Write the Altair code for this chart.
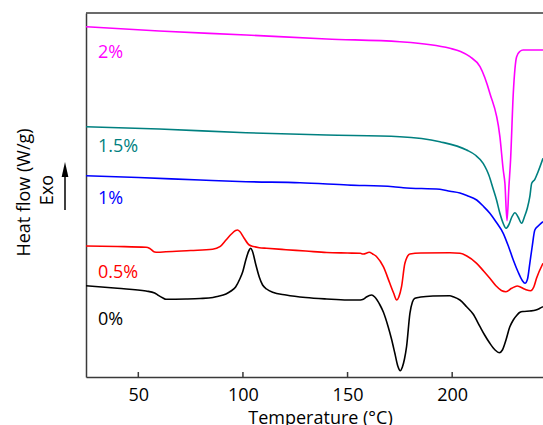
import altair as alt
import pandas as pd

# ---- series (temperature in degC, heat flow in arbitrary offset units) ----
series_names = ["0%", "0.5%", "1%", "1.5%", "2%"]
series_colors = ["#000000", "#ff0000", "#0000ff", "#008080", "#ff00ff"]

t_0 = [25.0, 40.0, 53.7, 57.8, 59.3, 61.8, 63.2, 72.8, 79.5, 85.7, 87.1, 91.9, 94.3, 96.5,
       98.5, 99.9, 101.5, 103.0, 103.7, 104.5, 106.2, 107.8, 109.4, 111.3, 114.2, 120.6,
       130.0, 140.0, 150.0, 156.1, 157.5, 159.0, 161.5, 163.0, 165.5, 167.1, 169.4, 171.0,
       172.6, 174.0, 175.2, 176.2, 177.2, 178.2, 179.8, 181.0, 182.2, 185.0, 190.8, 198.9,
       200.5, 203.7, 206.9, 210.0, 213.3, 215.5, 218.0, 220.5, 222.5, 224.0, 225.7, 227.5,
       229.2, 231.0, 232.4, 234.0, 237.1, 240.0, 241.9, 243.4]
hf_0 = [91.3, 88.7, 86.0, 84.0, 82.0, 79.0, 77.7, 78.0, 78.5, 79.5, 80.3, 83.0, 86.0, 90.0,
        98.0, 105.3, 118.0, 127.0, 128.7, 126.0, 112.0, 100.0, 92.0, 88.0, 84.7, 82.0,
        79.5, 78.0, 77.0, 77.0, 77.7, 80.0, 82.0, 80.0, 72.0, 65.0, 50.3, 38.0,
        23.7, 11.0, 6.3, 10.0, 18.0, 30.3, 63.7, 75.0, 78.7, 80.0, 81.0, 81.3,
        80.3, 77.0, 70.3, 63.0, 50.3, 42.0, 33.7, 27.0, 24.3, 27.0, 37.0, 50.0,
        57.0, 62.0, 64.7, 65.5, 66.0, 67.0, 68.7, 70.3]

t_05 = [25.0, 40.0, 53.7, 55.5, 57.8, 59.3, 63.2, 75.0, 85.5, 89.0, 91.9, 94.5, 96.5, 97.4,
        98.5, 100.5, 103.0, 105.0, 107.8, 111.3, 120.6, 130.0, 140.0, 150.0, 156.1, 157.5,
        160.4, 162.0, 163.9, 167.1, 170.2, 172.0, 173.5, 174.5, 175.8, 177.4, 179.8, 185.0,
        198.9, 203.7, 207.0, 211.7, 215.0, 218.0, 221.0, 223.5, 225.7, 228.4, 231.1, 234.8,
        237.5, 239.0, 240.3, 243.4]
hf_05 = [131.0, 130.5, 129.7, 128.5, 125.0, 124.7, 125.3, 126.5, 127.7, 130.3, 137.0, 143.0,
         146.5, 147.0, 145.5, 139.0, 132.0, 130.5, 129.3, 128.7, 127.3, 126.0, 124.5, 124.0,
         123.7, 123.0, 124.7, 123.0, 120.3, 110.3, 93.7, 84.0, 77.0, 80.0, 90.3, 113.7,
         123.0, 124.0, 124.3, 123.7, 121.0, 113.7, 106.0, 98.7, 91.0, 86.5, 85.3, 88.7,
         91.0, 87.7, 86.3, 90.0, 98.7, 113.7]

t_1 = [25.0, 50.0, 79.5, 101.5, 127.3, 150.0, 171.8, 176.6, 194.1, 198.9, 203.7, 207.0,
       211.7, 215.0, 218.0, 221.0, 224.4, 227.0, 229.2, 231.5, 233.5, 234.8, 236.0, 237.1,
       238.2, 239.5, 241.1, 243.4]
hf_1 = [201.3, 199.5, 197.0, 195.3, 194.3, 192.0, 190.3, 189.3, 187.7, 185.8, 184.0, 181.5,
        177.0, 170.5, 163.7, 155.0, 143.7, 130.0, 117.0, 105.0, 96.5, 93.7, 98.0, 113.7,
        130.0, 147.0, 151.0, 155.3]

t_15 = [25.0, 60.0, 101.5, 140.0, 175.0, 194.1, 206.9, 211.0, 214.8, 216.5, 217.5, 219.6,
        221.2, 222.8, 224.5, 225.7, 227.0, 228.5, 230.0, 231.5, 233.2, 234.5, 235.9, 237.1,
        238.0, 239.5, 241.0, 243.4]
hf_15 = [250.3, 248.0, 244.3, 242.0, 240.3, 235.3, 227.0, 222.0, 213.7, 207.0, 202.0, 188.0,
         177.0, 163.7, 153.0, 148.7, 152.0, 160.0, 164.3, 160.0, 153.7, 160.0, 168.7, 180.3,
         193.7, 197.7, 205.0, 218.7]

t_2 = [25.0, 60.0, 101.5, 140.0, 175.0, 198.9, 204.0, 208.5, 213.3, 218.0, 222.8, 224.4,
       225.2, 226.2, 227.1, 227.9, 229.2, 230.8, 232.3, 233.9, 243.4]
hf_2 = [350.3, 346.0, 342.0, 338.0, 335.3, 328.7, 325.5, 320.3, 310.3, 283.7, 240.3, 207.0,
        193.7, 156.3, 190.0, 217.0, 283.7, 320.3, 325.5, 327.0, 327.0]

# curve labels (text, position in data units)
label_text = ["0%", "0.5%", "1%", "1.5%", "2%"]
label_t = [30.7, 30.7, 30.7, 30.7, 30.7]
label_hf = [57.0, 103.7, 178.0, 230.3, 323.7]

x_ticks = [50, 100, 150, 200]

# ---- build tables ----
all_t = [t_0, t_05, t_1, t_15, t_2]
all_hf = [hf_0, hf_05, hf_1, hf_15, hf_2]
rows = []
for name, ts, hs in zip(series_names, all_t, all_hf):
    for t, h in zip(ts, hs):
        rows.append({"series": name, "T": t, "hf": h})
df = pd.DataFrame(rows)
df_lab = pd.DataFrame({"series": series_names, "label": label_text, "T": label_t, "hf": label_hf})
df_ticks = pd.DataFrame({"T": x_ticks})

W, H = 457, 364
FONT = "Open Sans"
FRAME = "#3a3a3a"

xscale = alt.Scale(domain=[25, 243.4], nice=False, zero=False)
yscale = alt.Scale(domain=[0, 364], nice=False, zero=False)
cscale = alt.Scale(domain=series_names, range=series_colors)

x_enc = alt.X("T:Q", scale=xscale, axis=alt.Axis(
    values=x_ticks, title="Temperature (°C)", ticks=False, grid=False,
    labelFont=FONT, labelFontSize=18, labelColor="#000", labelPadding=9,
    titleFont=FONT, titleFontSize=18, titleFontWeight="normal", titleColor="#000",
    titleX=234, titleY=32, titleBaseline="top", titleAlign="center",
    domainColor=FRAME, domainWidth=1.5))
y_enc = alt.Y("hf:Q", scale=yscale, axis=alt.Axis(
    labels=False, ticks=False, grid=False, title="Heat flow (W/g)",
    titleFont=FONT, titleFontSize=18, titleFontWeight="normal", titleColor="#000",
    titleX=-62, titleY=179, titleAngle=270, titleAlign="center", titleBaseline="middle",
    domainColor=FRAME, domainWidth=1.5))

lines = alt.Chart(df).mark_line(strokeWidth=1.6, interpolate="monotone").encode(
    x=x_enc, y=y_enc,
    color=alt.Color("series:N", scale=cscale, legend=None),
    detail="series:N")

labels = alt.Chart(df_lab).mark_text(align="left", baseline="middle", font=FONT, fontSize=18).encode(
    x=alt.X("T:Q", scale=xscale), y=alt.Y("hf:Q", scale=yscale),
    text="label:N",
    color=alt.Color("series:N", scale=cscale, legend=None))

ticks = alt.Chart(df_ticks).mark_rule(color=FRAME, strokeWidth=1.5).encode(
    x=alt.X("T:Q", scale=xscale), y=alt.value(H - 5), y2=alt.value(H))

one = pd.DataFrame({"k": [0]})
top_border = alt.Chart(one).mark_rule(color=FRAME, strokeWidth=1.5).encode(
    x=alt.value(0), x2=alt.value(W), y=alt.value(0))

exo = alt.Chart(one).mark_text(text="Exo", angle=270, font=FONT, fontSize=18,
                               align="center", baseline="middle", color="#000").encode(
    x=alt.value(-38), y=alt.value(177))
arrow_shaft = alt.Chart(one).mark_rule(color="#000", strokeWidth=1.5).encode(
    x=alt.value(-21), y=alt.value(197), y2=alt.value(158))
arrow_head = alt.Chart(one).mark_point(shape="M0,-1L0.45,1L-0.45,1Z", filled=True,
                                       size=225, color="#000", opacity=1).encode(
    x=alt.value(-21), y=alt.value(156.5))

chart = alt.layer(lines, labels, ticks, top_border, exo, arrow_shaft, arrow_head).properties(
    width=W, height=H,
    autosize=alt.AutoSizeParams(type="none"),
    padding={"left": 86, "top": 13, "right": 0, "bottom": 48},
).configure_view(strokeWidth=0).configure_axis(grid=False)

chart.save("out.html", embed_options={"renderer": "svg", "actions": False})
